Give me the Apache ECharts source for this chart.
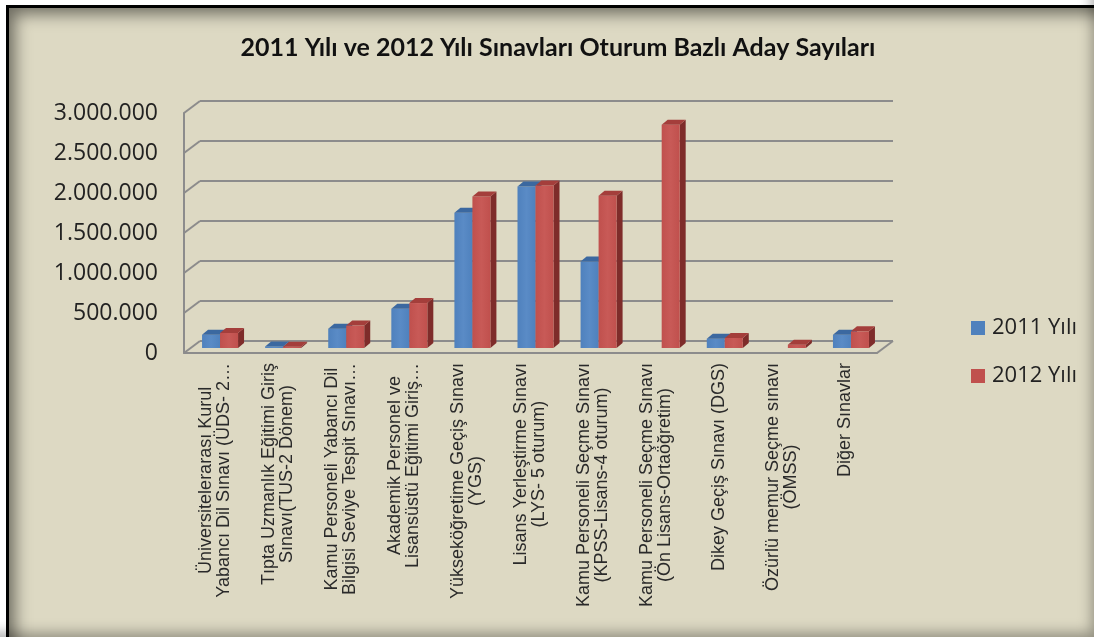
<!DOCTYPE html>
<html>
<head>
<meta charset="utf-8">
<script src="https://cdn.jsdelivr.net/npm/echarts@6/dist/echarts.min.js"></script>
<style>
  html, body { margin: 0; padding: 0; background: #ffffff; width: 1094px; height: 637px; overflow: hidden; }
  #frame { position: absolute; left: 6px; top: 5px; width: 1100px; height: 640px; box-sizing: border-box;
    border-left: 3px solid #000; border-top: 3px solid #000; background: #DDD9C3;
    box-shadow: inset 14px 14px 16px -8px rgba(0,0,0,0.5); }
  #shade { position: absolute; left: 0; top: 0; width: 1094px; height: 637px;
    box-shadow: inset -10px -12px 14px -8px rgba(0,0,0,0.35); }
  #chart { position: absolute; left: 0; top: 0; width: 1094px; height: 637px; }
</style>
</head>
<body>
<div id="frame"></div>
<div id="shade"></div>
<div id="chart"></div>
<script>
const titleText = '2011 Yılı ve 2012 Yılı Sınavları Oturum Bazlı Aday Sayıları';
const categories = [
  'Üniversitelerarası Kurul\nYabancı Dil Sınavı (ÜDS- 2…',
  'Tıpta Uzmanlık Eğitimi Giriş\nSınavı(TUS-2 Dönem)',
  'Kamu Personeli Yabancı Dil\nBilgisi Seviye Tespit Sınavı…',
  'Akademik Personel ve\nLisansüstü Eğitimi Giriş…',
  'Yükseköğretime Geçiş Sınavı\n(YGS)',
  'Lisans Yerleştirme Sınavı\n(LYS- 5 oturum)',
  'Kamu Personeli Seçme Sınavı\n(KPSS-Lisans-4 oturum)',
  'Kamu Personeli Seçme Sınavı\n(Ön Lisans-Ortaöğretim)',
  'Dikey Geçiş Sınavı (DGS)',
  'Özürlü memur Seçme sınavı\n(ÖMSS)',
  'Diğer Sınavlar'
];
const seriesNames = ['2011 Yılı', '2012 Yılı'];
const values2011 = [166000, 20000, 242000, 491000, 1690000, 2020000, 1082000, null, 116000, null, 166000];
const values2012 = [188000, 16000, 280000, 562000, 1893000, 2030000, 1902000, 2790000, 125000, 41000, 208000];
const yTicks = [0, 500000, 1000000, 1500000, 2000000, 2500000, 3000000];
const yMax = 3000000, yStep = 500000;

// 3D geometry (style)
const BW = 18, DX = 6, DY = 5;
const WALL_DX = -16, WALL_DY = 12;
const colors = {
  blue: { front: '#4F81BD', light: '#5A8BC6', top: '#3B68A0', side: '#345C8E' },
  red:  { front: '#C0504D', light: '#C85A57', top: '#A43E3B', side: '#7E2C2A' }
};

function fmt(v) { return String(v).replace(/\B(?=(\d{3})+(?!\d))/g, '.'); }

function barRenderer(offset, c) {
  return function (params, api) {
    const v = api.value(1);
    if (v == null || isNaN(v)) return;
    const i = api.value(0);
    const b = api.coord([i, 0]);
    const t = api.coord([i, v]);
    const x0 = b[0] + offset, x1 = x0 + BW, yb = b[1], yt = t[1];
    return { type: 'group', children: [
      { type: 'polygon', shape: { points: [[x1, yt], [x1 + DX, yt - DY], [x1 + DX, yb - DY], [x1, yb]] }, style: { fill: c.side } },
      { type: 'rect', shape: { x: x0, y: yt, width: BW, height: yb - yt },
        style: { fill: new echarts.graphic.LinearGradient(0, 0, 1, 0, [{ offset: 0, color: c.front }, { offset: 0.5, color: c.light }, { offset: 1, color: c.front }]) } },
      { type: 'polygon', shape: { points: [[x0, yt], [x0 + DX, yt - DY], [x1 + DX, yt - DY], [x1, yt]] }, style: { fill: c.top } }
    ]};
  };
}

const wallData = yTicks.map(v => [0, v]);

const chart = echarts.init(document.getElementById('chart'), null, { renderer: 'canvas' });
chart.setOption({
  backgroundColor: 'transparent',
  animation: false,
  title: {
    text: titleText, left: 553, top: 30, textAlign: 'center',
    textStyle: { fontFamily: 'Lato', fontWeight: 'bold', fontSize: 25, color: '#111' }
  },
  legend: {
    orient: 'vertical', left: 966, top: 312, itemWidth: 14, itemHeight: 14, itemGap: 26,
    icon: 'rect', data: seriesNames,
    textStyle: { fontFamily: 'Open Sans', fontSize: 22, color: '#222', padding: [0, 0, 0, 2] }
  },
  grid: [
    { left: 200, right: 201, top: 101, bottom: 296 },   // back wall
    { left: 190, right: 210, top: 108, bottom: 289 },   // bars plane
    { left: 184, right: 217, top: 113, bottom: 284 }    // front plane
  ],
  xAxis: [
    { gridIndex: 0, type: 'value', min: 0, max: 1, show: false },
    { gridIndex: 1, type: 'category', data: categories, show: false },
    { gridIndex: 2, type: 'category', data: categories,
      axisLine: { show: true, lineStyle: { color: '#8C8C8C', width: 2 } },
      axisTick: { show: false },
      axisLabel: {
        interval: 0, rotate: 90, margin: 10, color: '#2a2a2a',
        fontFamily: 'Liberation Sans', fontSize: 18, lineHeight: 18,
        formatter: v => v.split('\n').map(l => '{c|' + l + '}').join('\n'),
        rich: { c: { align: 'center', fontFamily: 'Liberation Sans', fontSize: 18, lineHeight: 18, color: '#2a2a2a' } }
      }
    }
  ],
  yAxis: [
    { gridIndex: 0, type: 'value', min: 0, max: yMax, interval: yStep,
      axisLine: { show: false }, axisTick: { show: false }, axisLabel: { show: false },
      splitLine: { show: true, lineStyle: { color: '#8C8C8C', width: 2 } } },
    { gridIndex: 1, type: 'value', min: 0, max: yMax, interval: yStep, show: false },
    { gridIndex: 2, type: 'value', min: 0, max: yMax, interval: yStep,
      axisLine: { show: true, lineStyle: { color: '#8C8C8C', width: 2 } },
      axisTick: { show: false }, splitLine: { show: false },
      axisLabel: { margin: 26, color: '#222', fontFamily: 'Open Sans', fontSize: 23, formatter: fmt } }
  ],
  series: [
    { type: 'custom', name: 'wall', xAxisIndex: 0, yAxisIndex: 0, silent: true, z: 1,
      data: wallData,
      renderItem: function (params, api) {
        const p = api.coord([api.value(0), api.value(1)]);
        const children = [{ type: 'line', shape: { x1: p[0], y1: p[1], x2: p[0] + WALL_DX, y2: p[1] + WALL_DY }, style: { stroke: '#8C8C8C', lineWidth: 2 } }];
        if (api.value(1) === 0) {
          const r = api.coord([1, 0]);
          children.push({ type: 'line', shape: { x1: r[0], y1: r[1], x2: r[0] + WALL_DX, y2: r[1] + WALL_DY }, style: { stroke: '#8C8C8C', lineWidth: 2 } });
        }
        return { type: 'group', children };
      }
    },
    { type: 'custom', name: seriesNames[0], xAxisIndex: 1, yAxisIndex: 1, z: 3,
      itemStyle: { color: colors.blue.front }, encode: { x: 0, y: 1 },
      data: values2011.map((v, i) => [i, v]),
      renderItem: barRenderer(-19.5, colors.blue) },
    { type: 'custom', name: seriesNames[1], xAxisIndex: 1, yAxisIndex: 1, z: 4,
      itemStyle: { color: colors.red.front }, encode: { x: 0, y: 1 },
      data: values2012.map((v, i) => [i, v]),
      renderItem: barRenderer(-1.5, colors.red) }
  ]
});
</script>
</body>
</html>
